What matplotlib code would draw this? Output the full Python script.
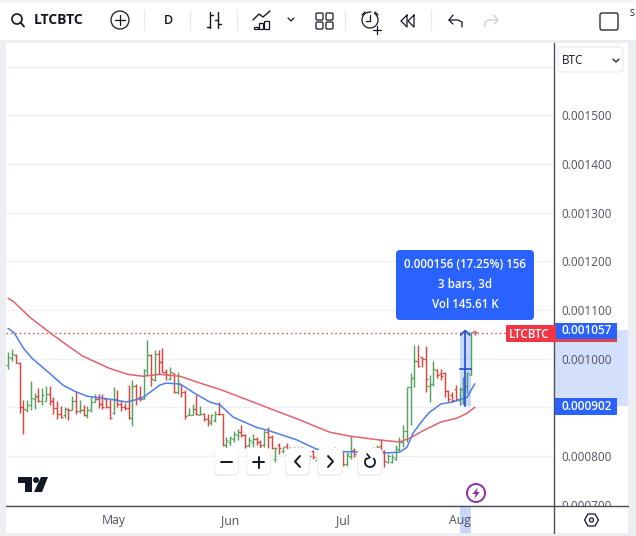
import matplotlib
matplotlib.use("Agg")
import matplotlib.pyplot as plt
from matplotlib.patches import Rectangle, FancyBboxPatch, Circle, Polygon, Arc

# ---- data (prices in units of 1e-6 BTC, bar number = day index)
opens = [988,1001,1007,992,901,895,904,918,923,913,914,928,913,899,886,884,897,894,913,892,894,884,895,911,918,
         908,918,901,888,918,908,901,899,878,945,921,918,967,1007,957,1009,993,972,959,970,931,949,931,884,885,
         897,885,886,877,867,874,887,886,823,829,836,843,850,843,823,829,836,829,823,850,840,795,822,810,820,
         817,815,803,815,808,790,810,792,800,802,796,803,795,800,808,783,800,812,810,802,809,803,808,805,820,
         810,788,787,795,815,829,851,943,960,995,1003,999,945,949,977,968,970,933,925,938,915,938,945,966,1057]
highs = [1014,1020,1010,993,916,916,955,929,940,940,944,944,921,913,902,901,899,923,933,916,904,902,921,928,928,
         928,919,918,943,936,916,909,947,957,949,945,979,1039,1010,1019,1018,1023,979,983,970,972,949,936,899,908,
         925,902,888,887,887,893,911,886,840,841,852,855,864,846,840,846,840,833,853,859,843,818,827,819,826,
         819,819,819,818,815,802,812,800,803,805,808,816,819,812,809,809,841,817,812,812,814,815,818,823,836,
         812,805,805,822,840,863,943,971,1028,1028,1004,1026,967,996,979,978,973,935,932,947,942,963,973,1055,1057]
lows = [979,996,992,889,846,890,894,897,911,904,914,904,887,877,879,879,875,894,887,889,883,879,890,911,899,
        897,899,877,887,901,892,895,877,862,904,914,918,966,945,955,969,972,957,957,930,928,921,877,884,884,
        885,884,873,862,864,870,884,821,812,823,829,833,840,816,819,819,823,816,819,816,814,788,805,807,809,
        802,803,800,805,800,788,795,790,790,792,795,800,788,785,780,780,795,799,799,795,798,796,800,802,802,
        778,786,785,792,810,819,829,863,942,983,983,932,911,945,960,956,922,911,911,913,905,908,930,966,1048]
closes = [1003,1009,992,901,897,904,919,921,914,925,928,913,899,886,880,897,894,913,892,894,884,894,911,918,908,
          901,901,878,918,908,901,899,878,945,918,918,977,1007,959,1009,993,972,969,972,931,949,931,882,885,897,
          887,887,877,872,884,887,886,823,834,838,846,850,843,820,833,836,829,823,850,840,816,816,816,818,812,
          806,806,815,808,803,800,798,798,795,796,805,812,812,808,783,805,810,805,804,809,802,808,803,818,807,
          790,800,798,815,828,851,943,960,995,985,999,959,949,980,966,965,933,918,915,917,938,945,970,1055,1054]

ma_fast_bar = [0,1.5,4,6.3,11,14.5,17.7,21,27,31.5,35.5,37.7,40.3,42,45.7,50,53.6,56.3,59.8,66,69,76.8,82,86.4,93.5,99.6,104,106,107.6,110,112,115,118,122,124]
ma_fast = [1062,1054,1022,1001,970,946,933,923,917,911,919,931,946,950,948,927,911,905,880,859,853,833,814,810,808,806,808,818,847,872,890,907,911,921,948]
ma_slow_bar = [0,1.3,5.8,11,15.6,19.9,27,31.8,35.8,40.3,45.7,51,56.3,62.4,68.8,77.6,85.5,90.8,98.8,104,106.8,110,115,119.3,122,124]
ma_slow = [1124,1118,1085,1054,1028,1005,980,968,964,968,964,950,937,919,900,874,849,841,833,829,837,851,870,878,888,900]

price_ticks = [700,800,900,1000,1100,1200,1300,1400,1500,1600]
hidden_ticks = [900,1600]
month_bars = [28,59,89,120]
month_labels = ["May","Jun","Jul","Aug"]
last_price = 1053
range_start, range_end = 902, 1058
range_bar_start, range_bar_end = 120, 123

GREEN, RED, BLUE = "#56a35f", "#d9453f", "#2962ff"
TXT = "#50535e"
FONT = "Open Sans"
plt.rcParams["font.family"] = [FONT, "DejaVu Sans"]

W, H = 636, 536
fig = plt.figure(figsize=(W/100, H/100), dpi=100, facecolor="white")

def rect_of(x0, y0, x1, y1):
    return [x0/W, 1-y1/H, (x1-x0)/W, (y1-y0)/H]

# ---- background layer: highlighted ranges on both scales
bg = fig.add_axes([0, 0, 1, 1], zorder=0)
bg.set_xlim(0, W); bg.set_ylim(H, 0); bg.axis("off")
bg.add_patch(Rectangle((555, 330), 73, 76, facecolor="#d3dffb", edgecolor="none"))
bg.add_patch(Rectangle((459.5, 507), 11.5, 26, facecolor="#c8d6fa", edgecolor="none"))

# ---- main chart
ax = fig.add_axes(rect_of(6, 43, 554, 506), zorder=1)
ax.set_facecolor("white")
ax.set_xlim(-0.61, 145.1)
ax.set_ylim(697.4, 1649)
for s in ax.spines.values():
    s.set_visible(False)
ax.yaxis.tick_right()
ax.set_yticks(price_ticks)
ax.set_yticklabels(["" if v in hidden_ticks else f"{v/1e6:.6f}" for v in price_ticks], color=TXT, fontsize=8.5)
ax.tick_params(axis="y", length=0, pad=5)
ax.set_xticks(month_bars)
ax.set_xticklabels(month_labels, color=TXT, fontsize=8.8)
ax.tick_params(axis="x", length=0, pad=6)
ax.grid(axis="y", color="#edf0f5", lw=1)
ax.set_axisbelow(True)

ax.axhline(last_price, xmax=(506-6)/548, color="#d9453f", lw=1, ls=(0, (1, 2.2)), zorder=2)

for i, (o, h, l, c) in enumerate(zip(opens, highs, lows, closes)):
    col = GREEN if c >= o else RED
    ax.plot([i, i], [l, h], color=col, lw=1.05, solid_capstyle="butt", zorder=3)
    ax.plot([i-0.55, i], [o, o], color=col, lw=0.9, solid_capstyle="butt", zorder=3)
    ax.plot([i, i+0.55], [c, c], color=col, lw=0.9, solid_capstyle="butt", zorder=3)

ax.plot(ma_slow_bar, ma_slow, color="#e2636c", lw=1.1, zorder=4)
ax.plot(ma_fast_bar, ma_fast, color="#4f7fe6", lw=1.1, zorder=5)

# date range tool
ax.add_patch(Rectangle((range_bar_start, range_start), range_bar_end-range_bar_start, range_end-range_start,
                       facecolor=BLUE, alpha=0.24, edgecolor="none", zorder=6))
mid_bar = (range_bar_start+range_bar_end)/2
mid_price = (range_start+range_end)/2
ax.plot([mid_bar, mid_bar], [range_start, range_end], color="#2450c8", lw=1.2, zorder=7)
ax.plot([range_bar_start, range_bar_end], [mid_price, mid_price], color="#2450c8", lw=1.2, zorder=7)
ax.plot([mid_bar-1.2, mid_bar, mid_bar+1.2], [range_end-9, range_end, range_end-9], color="#2450c8", lw=1.2, zorder=7)

# ---- overlay in pixel coordinates for the platform chrome
ov = fig.add_axes([0, 0, 1, 1], zorder=5)
ov.set_xlim(0, W); ov.set_ylim(H, 0); ov.axis("off"); ov.patch.set_alpha(0)

def box(x0, y0, x1, y1, fc, z=1, ec="none"):
    ov.add_patch(Rectangle((x0, y0), x1-x0, y1-y0, facecolor=fc, edgecolor=ec, lw=0, zorder=z))
def rbox(x0, y0, x1, y1, fc, r=4, ec="none", lw=0, z=3):
    ov.add_patch(FancyBboxPatch((x0+r, y0+r), x1-x0-2*r, y1-y0-2*r, boxstyle=f"round,pad={r},rounding_size={r}",
                                facecolor=fc, edgecolor=ec, lw=lw, zorder=z))
def line(xs, ys, c="#131722", lw=1.0, z=4):
    ov.plot(xs, ys, color=c, lw=lw, zorder=z, solid_capstyle="round", solid_joinstyle="round")
def txt(x, y, s, c=TXT, size=8.8, ha="center", weight="normal", z=5):
    ov.text(x, y, s, color=c, fontsize=size, ha=ha, va="center", fontweight=weight, zorder=z)

# gutters
GUT = "#eceef2"
box(0, 0, W, 3, "#f2f3f5")
box(0, 40, W, 43, GUT)
box(0, 43, 6, H, GUT)
box(628, 43, W, H, GUT)
box(0, 533, W, H, GUT)
# clip the lowest price label below the axis line
box(555, 507, 628, 533, "white", z=0.5)

# axis borders
line([554, 554], [43, 533], "#4a4d57", 1.0, z=2.5)
line([6, 628], [506, 506], "#4a4d57", 1.0, z=2.5)

# price labels
box(555, 323, 617, 342, BLUE, z=3)
box(555, 339, 617, 342, "#e0434c", z=3.1)
txt(587, 331, "0.001057", "white", 8.5, weight="semibold")
box(555, 398, 617, 415, BLUE, z=3)
txt(587, 406, "0.000902", "white", 8.5, weight="semibold")
rbox(506, 325, 556, 342, "#f23645", r=1.5, z=3)
box(550, 325, 554, 342, "#f23645", z=3.1)
txt(529, 334, "LTCBTC", "white", 8.4, weight="semibold")

# info box
rbox(396, 250, 534, 320, BLUE, r=4, z=3)
txt(465, 265, "0.000156 (17.25%) 156", "white", 8.3, weight="semibold")
txt(465, 285, "3 bars, 3d", "white", 8.3, weight="semibold")
txt(465, 305, "Vol 145.61 K", "white", 8.3, weight="semibold")

# currency dropdown
rbox(558, 47, 623, 72, "white", r=4, ec="#e6e8ee", lw=0.8, z=3)
txt(562, 60, "BTC", "#131722", 8.4, ha="left")
line([613, 616, 619], [59, 62, 59], "#131722", 0.9)

# navigation buttons
for x0, x1 in [(215, 238), (247, 270), (286, 309), (318, 342), (358, 382)]:
    rbox(x0-1, 449, x1+1, 476, "#eceef2", r=5, z=2.9)
    rbox(x0, 448, x1, 474, "white", r=5, z=3)
line([221, 232], [462, 462], lw=1.4)
line([253, 264], [462, 462], lw=1.4); line([258.5, 258.5], [456.5, 467.5], lw=1.4)
line([300, 295, 300], [456, 461.5, 467], lw=1.4)
line([328, 333, 328], [456, 461.5, 467], lw=1.4)
ov.add_patch(Arc((370, 462), 10, 10, theta1=-50, theta2=230, color="#131722", lw=1.3, zorder=4))
line([367, 370, 366], [454, 457.5, 459], lw=1.2)

# TradingView logo
ov.add_patch(Polygon([(18, 477), (32, 477), (32, 492), (25, 492), (25, 483), (18, 483)], facecolor="#131722", zorder=4))
ov.add_patch(Circle((36, 480), 3, facecolor="#131722", zorder=4))
ov.add_patch(Polygon([(41, 477), (48, 477), (42, 492), (34, 492)], facecolor="#131722", zorder=4))

# lightning badge
ov.add_patch(Circle((476, 493), 9, facecolor="white", edgecolor="#8e2fa8", lw=1.4, zorder=4))
ov.add_patch(Polygon([(478, 487), (472.5, 494), (475.7, 494), (474.3, 499), (479.7, 492), (476.5, 492)], facecolor="#8e2fa8", zorder=5))

# settings hexagon
ov.add_patch(Polygon([(584.5, 520), (588, 514), (595, 514), (598.5, 520), (595, 526), (588, 526)], closed=True,
                     facecolor="white", edgecolor="#131722", lw=0.9, zorder=4))
ov.add_patch(Circle((591.5, 520), 2, facecolor="white", edgecolor="#131722", lw=0.9, zorder=5))

# ---- toolbar
TB = "#131722"
ov.add_patch(Circle((17, 19), 5, facecolor="none", edgecolor=TB, lw=1.2, zorder=4))
line([20.5, 24], [22.5, 26.5], TB, 1.3)
txt(34, 20, "LTCBTC", TB, 10, ha="left", weight="bold")
ov.add_patch(Circle((120, 20), 9, facecolor="none", edgecolor=TB, lw=0.9, zorder=4))
line([115, 125], [20, 20], TB, 0.9); line([120, 120], [15, 25], TB, 0.9)
txt(168, 20, "D", TB, 9.0, weight="semibold")
for sx in [144, 190, 237, 345, 431]:
    line([sx, sx], [10, 30], "#e6e8ee", 0.9)
# bars style icon
line([210, 210], [12, 28], TB, 1.0); line([207, 210], [27, 27], TB, 1.0); line([210, 213], [15, 15], TB, 1.0)
line([218, 218], [12, 28], TB, 1.0); line([215, 218], [20, 20], TB, 1.0); line([218, 221], [24, 24], TB, 1.0)
# indicators icon
line([253, 259, 263, 270], [20, 14, 17, 11], TB, 1.0)
for a, b, c in [(254, 258, 27), (259, 263, 23), (264, 269, 21)]:
    ov.add_patch(Rectangle((a, c), b-a, 29-c, facecolor="none", edgecolor=TB, lw=0.9, zorder=4))
line([288, 291, 294], [18, 21, 18], TB, 0.9)
# layouts icon
for xx, yy in [(316, 13), (326, 13), (316, 22), (326, 22)]:
    rbox(xx, yy, xx+7, yy+7, "none", r=1.3, ec=TB, lw=0.9, z=4)
# alarm icon
ov.add_patch(Arc((370, 20), 16, 16, theta1=-60, theta2=280, color=TB, lw=0.9, zorder=4))
line([370, 370, 366], [15, 21, 21], TB, 0.9)
line([362, 365], [15, 12], TB, 0.9); line([375, 378], [12, 15], TB, 0.9)
line([373, 381], [30, 30], TB, 0.9); line([377, 377], [26, 34], TB, 0.9)
# rewind icon
line([407, 401, 407, 407], [15, 21, 27, 15], TB, 0.9)
line([414, 408, 414, 414], [15, 21, 27, 15], TB, 0.9)
# undo / redo
line([453, 449, 453], [15, 20, 24], TB, 0.9)
line([449, 458, 462, 462], [20, 20, 22, 27], TB, 0.9)
line([494, 498, 494], [15, 20, 24], "#c8cbd3", 0.9)
line([498, 489, 485, 485], [20, 20, 22, 27], "#c8cbd3", 0.9)
rbox(600, 13, 618, 30, "none", r=2, ec=TB, lw=0.9, z=4)
txt(630, 14, "S", TB, 6.5, ha="left")

fig.savefig("out.png", dpi=100)
